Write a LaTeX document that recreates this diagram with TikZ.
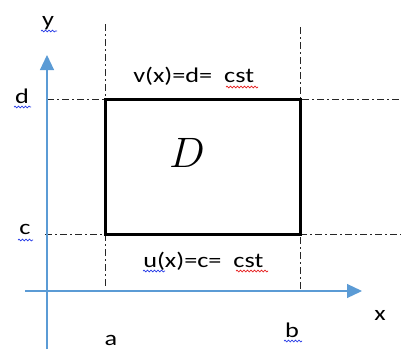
\documentclass[tikz,border=0pt]{standalone}
\usepackage{fontspec}
\setmainfont{Carlito}
\usetikzlibrary{arrows.meta,decorations.pathmorphing}
\definecolor{axisblue}{RGB}{91,155,213}
\definecolor{spellred}{RGB}{230,30,30}
\definecolor{spellblue}{RGB}{40,60,230}
\begin{document}
\begin{tikzpicture}[x=1pt,y=-1pt,
  axisline/.style={draw=axisblue,line width=1.2pt,-{Triangle[length=15pt,width=14pt]}},
  guide/.style={draw=black!85,line width=0.8pt,dash pattern=on 7pt off 3pt on 2pt off 3pt},
  boxline/.style={draw=black,line width=3pt,line join=miter},
  lbl/.style={font=\fontsize{21}{24}\selectfont,inner sep=0pt,xscale=1.25},
  squig/.style={decorate,decoration={snake,amplitude=0.9pt,segment length=3.5pt},line width=0.7pt}
]
\useasboundingbox (0,0) rectangle (401,349);
% guides
\coordinate (ga1) at (105,24);  \coordinate (ga2) at (105,288);
\coordinate (gb1) at (300,27);  \coordinate (gb2) at (300,289);
\coordinate (gd1) at (47,99);   \coordinate (gd2) at (401,99);
\coordinate (gc1) at (45,234);  \coordinate (gc2) at (401,234);
\draw[guide] (ga1) -- (ga2);
\draw[guide] (gb1) -- (gb2);
\draw[guide] (gd1) -- (gd2);
\draw[guide] (gc1) -- (gc2);
% axes
\coordinate (yb) at (47,349); \coordinate (yt) at (47,55);
\coordinate (xl) at (25,291); \coordinate (xr) at (362,291);
\draw[axisline] (yb) -- (yt);
\draw[axisline] (xl) -- (xr);
% domain
\coordinate (r1) at (105,99); \coordinate (r2) at (300,234);
\draw[boxline] (r1) rectangle (r2);
\node[font=\fontsize{20}{24}\selectfont,inner sep=0pt,scale=2.05] (D) at (187,153) {$D$};
% labels
\node[lbl,anchor=base] (ly) at (48,26) {y};
\node[lbl,anchor=base] (ld) at (22,103) {d};
\node[lbl,anchor=base] (lc) at (25,234) {c};
\node[lbl,anchor=base] (la) at (111,345) {a};
\node[lbl,anchor=base] (lb) at (292,337) {b};
\node[lbl,anchor=base] (lx) at (380,320) {x};
\node[lbl,anchor=base west] (lv) at (133,82) {v(x)=d=\ \ cst};
\node[lbl,anchor=base west] (lu) at (143,267) {u(x)=c=\ \ cst};
% spell-check marks
\draw[squig,spellblue] (41,31) -- (57,31);
\draw[squig,spellblue] (14,107) -- (31,107);
\draw[squig,spellblue] (18,240) -- (33,240);
\draw[squig,spellblue] (284,341) -- (302,341);
\draw[squig,spellblue] (143,271) -- (165,271);
\draw[squig,spellred] (226,87) -- (258,87);
\draw[squig,spellred] (236,271) -- (268,271);
\end{tikzpicture}
\end{document}
